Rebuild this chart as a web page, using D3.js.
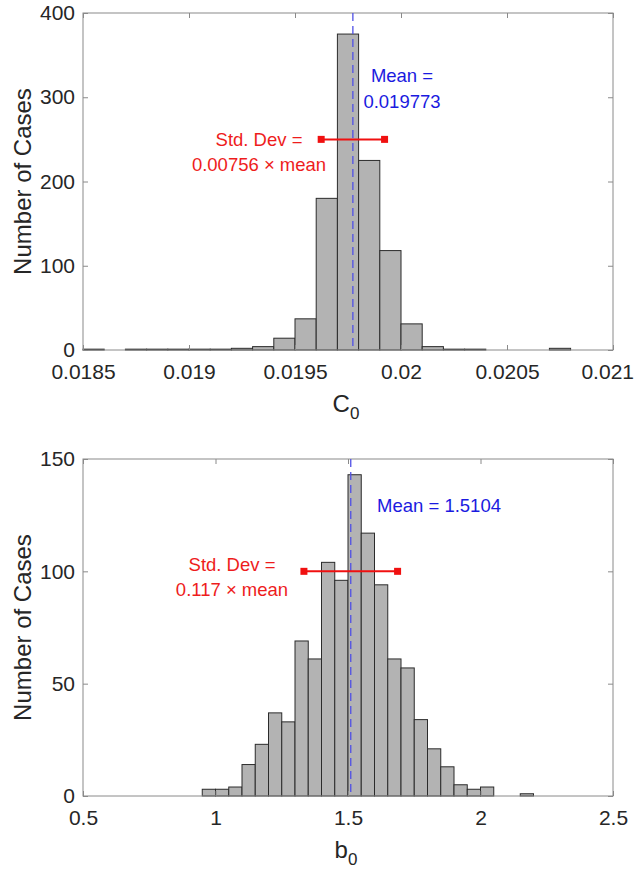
<!DOCTYPE html>
<html>
<head>
<meta charset="utf-8">
<script src="https://cdn.jsdelivr.net/npm/d3@7"></script>
<style>
  body { margin: 0; background: #fff; }
  svg text { font-family: "Liberation Sans", Arial, sans-serif; }
</style>
</head>
<body>
<div id="chart"></div>
<script>
// histogram of C0 (bin width 0.0001 starting at 0.0185)
var c0Start = 0.0185, c0Width = 0.0001;
var c0Counts = [1, 0, 1, 1, 1, 1, 1, 2, 4, 14, 37, 180, 375, 225, 118, 31, 4, 1, 1, 0, 0, 0, 2, 0, 0];
var c0Ticks = [0.0185, 0.019, 0.0195, 0.02, 0.0205, 0.021];
var c0YTicks = [0, 100, 200, 300, 400];
var c0Mean = 0.019773, c0StdFactor = 0.00756, c0BarY = 250;

// histogram of b0 (bin width 0.05 starting at 0.95)
var b0Start = 0.95, b0Width = 0.05;
var b0Counts = [3, 3, 4, 14, 23, 37, 33, 69, 61, 104, 96, 143, 117, 94, 61, 57, 34, 21, 13, 5, 3, 4, 0, 0, 1];
var b0Ticks = [0.5, 1, 1.5, 2, 2.5];
var b0YTicks = [0, 50, 100, 150];
var b0Mean = 1.5104, b0StdFactor = 0.117, b0BarY = 100;

var svg = d3.select('#chart').append('svg')
  .attr('width', 636)
  .attr('height', 871);

function panel(opt) {
  var g = svg.append('g');
  var x = d3.scaleLinear().domain(opt.xDomain).range([83, 613]);
  var y = d3.scaleLinear().domain(opt.yDomain).range([opt.bottom, opt.top]);

  var bins = opt.counts.map(function(c, i) {
    return { x0: opt.start + i * opt.width, x1: opt.start + (i + 1) * opt.width, n: c };
  });

  // bars
  g.selectAll('rect.bar').data(bins).enter().append('rect')
    .attr('class', 'bar')
    .attr('x', function(d) { return x(d.x0); })
    .attr('width', function(d) { return x(d.x1) - x(d.x0); })
    .attr('y', function(d) { return y(d.n); })
    .attr('height', function(d) { return y(0) - y(d.n); })
    .attr('fill', '#b3b3b3')
    .attr('stroke', '#2b2b2b')
    .attr('stroke-width', 1);

  // box
  g.append('rect')
    .attr('x', 83).attr('y', opt.top)
    .attr('width', 530).attr('height', opt.bottom - opt.top)
    .attr('fill', 'none').attr('stroke', '#8a8a8a').attr('stroke-width', 1);

  var fmt = function(d) { return String(d); };

  // axes with ticks pointing inward
  var xa = g.append('g').attr('transform', 'translate(0,' + opt.bottom + ')')
    .call(d3.axisBottom(x).tickValues(opt.xTicks).tickFormat(fmt).tickSizeInner(-5).tickSizeOuter(0).tickPadding(14));
  var xt = g.append('g').attr('transform', 'translate(0,' + opt.top + ')')
    .call(d3.axisTop(x).tickValues(opt.xTicks).tickFormat('').tickSizeInner(-5).tickSizeOuter(0));
  var ya = g.append('g').attr('transform', 'translate(83,0)')
    .call(d3.axisLeft(y).tickValues(opt.yTicks).tickFormat(fmt).tickSizeInner(-5).tickSizeOuter(0).tickPadding(8));
  var yr = g.append('g').attr('transform', 'translate(613,0)')
    .call(d3.axisRight(y).tickValues(opt.yTicks).tickFormat('').tickSizeInner(-5).tickSizeOuter(0));

  [xa, xt, ya, yr].forEach(function(a) {
    a.select('.domain').remove();
    a.selectAll('line').attr('stroke', '#8a8a8a');
    a.selectAll('text').attr('fill', '#262626').attr('font-size', 21)
      .style('font-family', '"Liberation Sans", Arial, sans-serif');
  });

  // keep the last x tick label inside the page
  xa.selectAll('text').each(function() {
    var b = this.getBBox();
    var tx = d3.select(this.parentNode).attr('transform');
    var px = +/translate\(([-\d.]+)/.exec(tx)[1];
    var over = px + b.x + b.width - 634;
    if (over > 0) d3.select(this).attr('x', -over);
  });

  // mean line
  g.append('line')
    .attr('x1', x(opt.mean)).attr('x2', x(opt.mean))
    .attr('y1', opt.top).attr('y2', opt.bottom)
    .attr('stroke', '#5050e6').attr('stroke-width', 1.3)
    .attr('stroke-dasharray', '8,5');

  // std dev bar
  var sd = opt.mean * opt.stdFactor;
  var ends = [opt.mean - sd, opt.mean + sd];
  g.append('line')
    .attr('x1', x(ends[0])).attr('x2', x(ends[1]))
    .attr('y1', y(opt.barY)).attr('y2', y(opt.barY))
    .attr('stroke', '#f01010').attr('stroke-width', 2);
  g.selectAll('rect.end').data(ends).enter().append('rect')
    .attr('class', 'end')
    .attr('x', function(d) { return x(d) - 3.5; })
    .attr('y', y(opt.barY) - 3.5)
    .attr('width', 7).attr('height', 7)
    .attr('fill', '#f01010');

  // annotations
  opt.meanText.forEach(function(t) {
    g.append('text')
      .attr('x', t.x).attr('y', t.y)
      .attr('text-anchor', 'middle')
      .attr('font-size', 18.5).attr('fill', '#1a1ae0')
      .text(t.s);
  });
  opt.sdText.forEach(function(t) {
    g.append('text')
      .attr('x', t.x).attr('y', t.y)
      .attr('text-anchor', 'middle')
      .attr('font-size', 18.5).attr('fill', '#ee1c1c')
      .text(t.s);
  });

  // axis labels
  var xl = g.append('text')
    .attr('x', 346).attr('y', opt.bottom + 62)
    .attr('text-anchor', 'middle')
    .attr('font-size', 24).attr('fill', '#262626');
  xl.append('tspan').text(opt.xLabel);
  xl.append('tspan').attr('dy', 7).attr('font-size', 17).text('0');

  g.append('text')
    .attr('transform', 'translate(31,' + ((opt.top + opt.bottom) / 2) + ') rotate(-90)')
    .attr('text-anchor', 'middle')
    .attr('font-size', 24).attr('fill', '#262626')
    .text('Number of Cases');
}

panel({
  xDomain: [0.0185, 0.021], yDomain: [0, 400], top: 13, bottom: 350,
  start: c0Start, width: c0Width, counts: c0Counts,
  xTicks: c0Ticks, yTicks: c0YTicks,
  mean: c0Mean, stdFactor: c0StdFactor, barY: c0BarY,
  meanText: [{ x: 402, y: 82, s: 'Mean =' }, { x: 402, y: 108, s: '0.019773' }],
  sdText: [{ x: 259, y: 146, s: 'Std. Dev =' }, { x: 259, y: 171, s: '0.00756 \u00d7 mean' }],
  xLabel: 'C'
});

panel({
  xDomain: [0.5, 2.5], yDomain: [0, 150], top: 459, bottom: 796,
  start: b0Start, width: b0Width, counts: b0Counts,
  xTicks: b0Ticks, yTicks: b0YTicks,
  mean: b0Mean, stdFactor: b0StdFactor, barY: b0BarY,
  meanText: [{ x: 439, y: 512, s: 'Mean = 1.5104' }],
  sdText: [{ x: 232, y: 571, s: 'Std. Dev =' }, { x: 232, y: 596, s: '0.117 \u00d7 mean' }],
  xLabel: 'b'
});
</script>
</body>
</html>
